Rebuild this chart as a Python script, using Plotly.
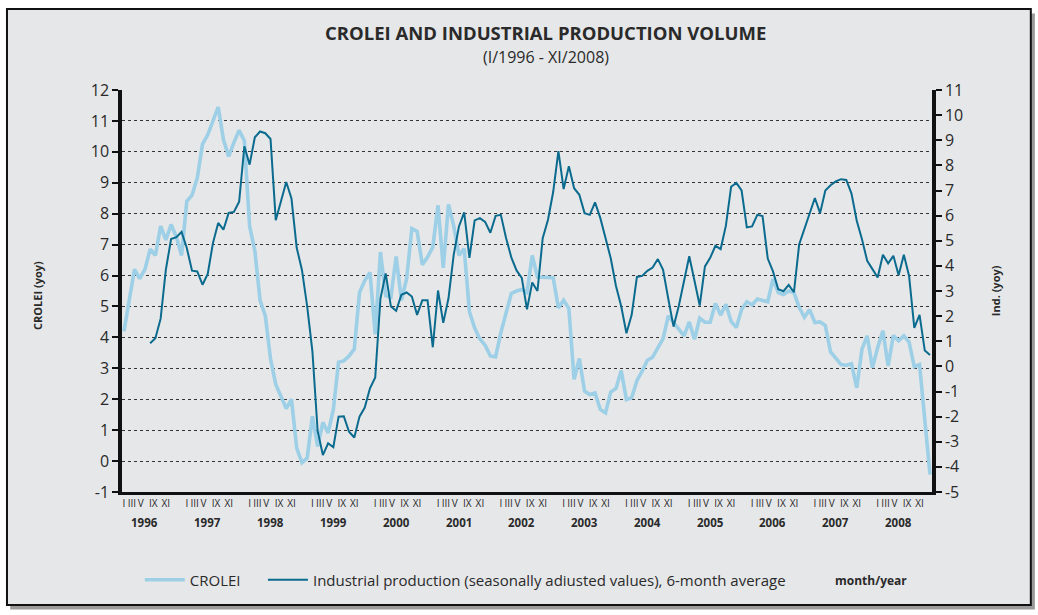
import plotly.graph_objects as go

# ---------------- data ----------------
years = list(range(1996, 2009))
roman_months = ["I", "III", "V", "IX", "XI"]
# position of each roman label within a year (in months, as printed on the original axis)
roman_offsets = [0, 1.5, 3.2, 5.6, 8.0]

left_ticks = list(range(-1, 13))
right_ticks = list(range(-5, 12))

# monthly observations, I/1996 .. XI/2008 (index 0 = January 1996)
crolei = [
    4.2, 5.2, 6.2, 5.9, 6.2, 6.85, 6.65, 7.6, 7.15, 7.65, 7.25, 6.65,          # 1996
    8.4, 8.6, 9.15, 10.25, 10.55, 11.0, 11.45, 10.4, 9.85, 10.3, 10.7, 10.35,  # 1997
    7.6, 6.8, 5.2, 4.7, 3.3, 2.48, 2.1, 1.7, 2.0, 0.42, -0.05, 0.1,            # 1998
    1.45, 0.47, 1.25, 0.91, 1.67, 3.2, 3.24, 3.4, 3.62, 5.45, 5.84, 6.1,        # 1999
    4.1, 6.76, 5.35, 5.3, 6.62, 5.2, 5.9, 7.52, 7.43, 6.35, 6.6, 6.92,          # 2000
    8.27, 6.25, 8.3, 7.6, 6.65, 6.87, 4.83, 4.3, 3.95, 3.75, 3.4, 3.37,         # 2001
    4.15, 4.76, 5.42, 5.5, 5.55, 5.45, 6.65, 5.95, 5.95, 5.93, 5.93, 4.95,      # 2002
    5.2, 4.93, 2.64, 3.32, 2.26, 2.15, 2.2, 1.67, 1.56, 2.23, 2.35, 2.93,       # 2003
    1.99, 2.05, 2.6, 2.91, 3.26, 3.36, 3.67, 3.96, 4.7, 4.5, 4.27, 4.05,        # 2004
    4.5, 3.94, 4.62, 4.49, 4.49, 5.1, 4.72, 5.07, 4.52, 4.32, 4.9, 5.15,        # 2005
    5.05, 5.24, 5.2, 5.15, 5.89, 5.45, 5.39, 5.5, 5.45, 4.97, 4.65, 4.9,        # 2006
    4.48, 4.5, 4.38, 3.53, 3.33, 3.12, 3.1, 3.15, 2.37, 3.62, 4.05, 3.02,       # 2007
    3.67, 4.21, 3.08, 4.06, 3.89, 4.05, 3.85, 3.05, 3.12, 1.3, -0.44,           # 2008
]

industrial = [
    None, None, None, None, None, 0.92, 1.12, 1.9, 3.85, 5.07, 5.14, 5.35,      # 1996
    4.71, 3.81, 3.78, 3.25, 3.68, 4.91, 5.71, 5.44, 6.11, 6.15, 6.55, 8.76,     # 1997
    8.03, 9.12, 9.35, 9.28, 9.05, 5.82, 6.64, 7.34, 6.68, 4.72, 3.84, 2.39,     # 1998
    0.6, -2.57, -3.53, -3.06, -3.22, -2.0, -1.99, -2.6, -2.83, -2.0, -1.64, -0.87,  # 1999
    -0.44, 2.7, 3.7, 2.38, 2.21, 2.85, 2.94, 2.78, 2.05, 2.63, 2.63, 0.76,      # 2000
    3.02, 1.73, 2.71, 4.45, 5.57, 6.13, 4.32, 5.81, 5.9, 5.75, 5.32, 5.99,      # 2001
    6.03, 5.11, 4.34, 3.82, 3.52, 2.27, 3.34, 3.0, 5.1, 5.83, 6.94, 8.57,       # 2002
    7.06, 7.97, 7.09, 6.83, 6.1, 6.03, 6.53, 5.91, 5.11, 4.3, 3.2, 2.39,        # 2003
    1.32, 2.05, 3.56, 3.6, 3.8, 3.93, 4.27, 3.84, 2.68, 1.58, 2.4, 3.39,        # 2004
    4.38, 3.41, 2.42, 3.98, 4.32, 4.8, 4.67, 5.6, 7.15, 7.3, 7.0, 5.53,         # 2005
    5.57, 6.03, 5.98, 4.29, 3.78, 3.07, 2.99, 3.24, 2.95, 4.85, 5.47, 6.11,     # 2006
    6.7, 6.1, 7.0, 7.21, 7.36, 7.45, 7.42, 6.88, 5.8, 5.06, 4.2, 3.87,          # 2007
    3.54, 4.44, 4.1, 4.4, 3.63, 4.44, 3.6, 1.53, 2.05, 0.63, 0.45,              # 2008
]

month_index = list(range(len(crolei)))  # month number counted from I/1996

# ---------------- style ----------------
LIGHT = "#9dcfe6"
DARK = "#0b6b8f"
TXT = "#2a2a2a"
BG = "#e6e7e9"
FONT = "Open Sans, Liberation Sans, sans-serif"

fig = go.Figure()
fig.add_trace(go.Scatter(
    x=month_index, y=crolei, name="CROLEI", mode="lines",
    line=dict(color=LIGHT, width=3.6), yaxis="y", legend="legend",
))
fig.add_trace(go.Scatter(
    x=month_index, y=industrial,
    name="Industrial production (seasonally adiusted values), 6-month average",
    mode="lines", line=dict(color=DARK, width=2), yaxis="y2", legend="legend2",
))

tickvals, ticktext = [], []
for i, yr in enumerate(years):
    for off, lab in zip(roman_offsets, roman_months):
        tickvals.append(12 * i + off)
        ticktext.append(lab)

annotations = []
for i, yr in enumerate(years):
    annotations.append(dict(
        x=12 * i + 4, xref="x", y=-0.077, yref="paper",
        xanchor="center", yanchor="middle",
        text=f"<b>{yr}</b>", showarrow=False,
        font=dict(family=FONT, size=11.5, color=TXT),
    ))

annotations += [
    dict(x=0.523, y=1.142, xref="paper", yref="paper", xanchor="center", yanchor="middle",
         text="<b>CROLEI AND INDUSTRIAL PRODUCTION VOLUME</b>", showarrow=False,
         font=dict(family=FONT, size=18.5, color=TXT)),
    dict(x=0.523, y=1.081, xref="paper", yref="paper", xanchor="center", yanchor="middle",
         text="(I/1996 - XI/2008)", showarrow=False,
         font=dict(family=FONT, size=16, color=TXT)),
    dict(x=-0.105, y=0.49, xref="paper", yref="paper", xanchor="center", yanchor="middle",
         textangle=-90, text="<b>CROLEI (yoy)</b>", showarrow=False,
         font=dict(family=FONT, size=11, color=TXT)),
    dict(x=1.078, y=0.50, xref="paper", yref="paper", xanchor="center", yanchor="middle",
         textangle=-90, text="<b>Ind. (yoy)</b>", showarrow=False,
         font=dict(family=FONT, size=11, color=TXT)),
    dict(x=0.925, y=-0.219, xref="paper", yref="paper", xanchor="center", yanchor="middle",
         text="<b>month/year</b>", showarrow=False,
         font=dict(family=FONT, size=12, color=TXT)),
]

shapes = [
    # shadow
    dict(type="rect", xref="paper", yref="paper", layer="below",
         x0=-0.138, x1=1.127, y0=-0.292, y1=1.19,
         fillcolor="#9a9a9a", line=dict(width=0)),
    # frame
    dict(type="rect", xref="paper", yref="paper", layer="below",
         x0=-0.142, x1=1.122, y0=-0.281, y1=1.2015,
         fillcolor=BG, line=dict(color="#111111", width=2)),
]

legend_style = dict(orientation="h", y=-0.219, xanchor="left", yanchor="middle",
                    bgcolor="rgba(0,0,0,0)", font=dict(family=FONT, size=15, color=TXT),
                    itemwidth=40)

fig.update_layout(
    width=1038, height=615,
    margin=dict(l=122, r=106, t=90, b=123, autoexpand=False),
    paper_bgcolor="white", plot_bgcolor=BG,
    font=dict(family=FONT, color=TXT),
    showlegend=True,
    legend=dict(x=0.022, **legend_style),
    legend2=dict(x=0.174, **legend_style),
    xaxis=dict(
        range=[-0.38, 154.38], tickmode="array", tickvals=tickvals, ticktext=ticktext,
        tickangle=0, showgrid=False, zeroline=False, showline=True,
        linecolor="#111111", linewidth=2.5,
        ticks="", tickfont=dict(family=FONT, size=10, color=TXT),
    ),
    yaxis=dict(
        range=[-1, 12], tickmode="array", tickvals=left_ticks,
        ticktext=[str(v) for v in left_ticks],
        showgrid=True, gridcolor="#333333",
        griddash="3px,3px", gridwidth=1, zeroline=False,
        showline=True, linecolor="#111111", linewidth=3.5,
        ticks="outside", ticklen=6, tickwidth=2, tickcolor="#111111",
        tickfont=dict(family=FONT, size=16, color=TXT),
    ),
    yaxis2=dict(
        range=[-5, 11], tickmode="array", tickvals=right_ticks,
        ticktext=[str(v) for v in right_ticks],
        overlaying="y", side="right",
        showgrid=False, zeroline=False,
        showline=True, linecolor="#111111", linewidth=3.5,
        ticks="outside", ticklen=6, tickwidth=2, tickcolor="#111111",
        tickfont=dict(family=FONT, size=16, color=TXT),
    ),
    annotations=annotations,
    shapes=shapes,
)

fig.write_html("out.html", config={"displayModeBar": False},
               post_script="document.body.style.margin='0px';")
